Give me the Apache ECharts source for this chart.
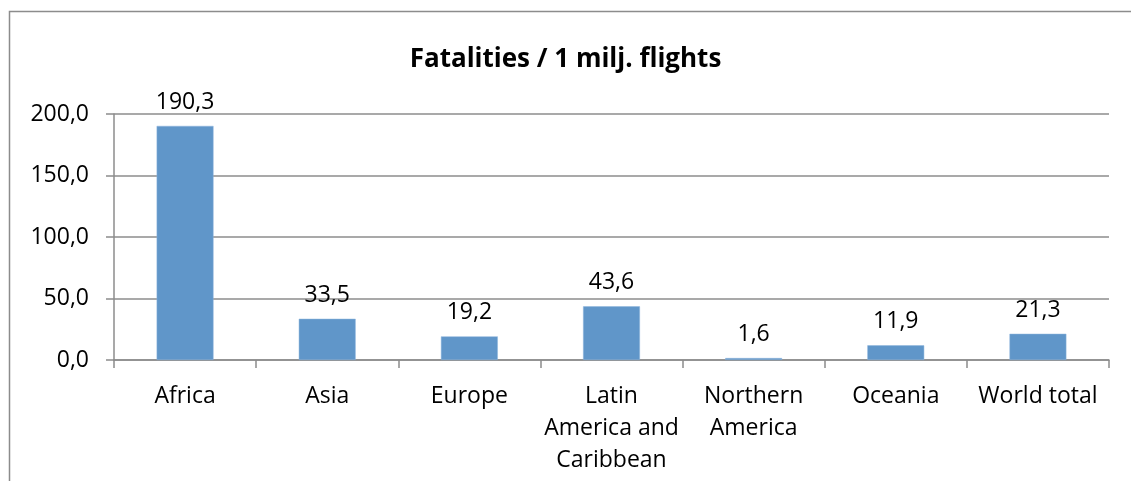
<!DOCTYPE html>
<html>
<head>
<meta charset="utf-8">
<script src="https://cdn.jsdelivr.net/npm/echarts@6/dist/echarts.min.js"></script>
<style>
  html, body { margin: 0; padding: 0; background: #fff; }
  #chart { width: 1131px; height: 481px; }
</style>
</head>
<body>
<div id="chart"></div>
<script>
// data
const regions = ['Africa', 'Asia', 'Europe', 'Latin\nAmerica and\nCaribbean', 'Northern\nAmerica', 'Oceania', 'World total'];
const fatalities = [190.3, 33.5, 19.2, 43.6, 1.6, 11.9, 21.3];
const yTicks = [0, 50, 100, 150, 200];

const fmt = v => v.toFixed(1).replace('.', ',');
const font = '"Open Sans", "Liberation Sans", sans-serif';

let myChart = echarts.init(document.getElementById('chart'));
myChart.setOption({
  animation: false,
  textStyle: { fontFamily: font },
  graphic: [{
    type: 'rect',
    shape: { x: 9.5, y: 11.5, width: 1200, height: 600 },
    style: { fill: 'none', stroke: '#8c8c8c', lineWidth: 1.5 }
  }],
  title: {
    text: 'Fatalities / 1 milj. flights',
    left: 'center',
    top: 42,
    textStyle: { fontFamily: font, fontSize: 26, fontWeight: 'bold', color: '#000' }
  },
  grid: { left: 114, right: 22, top: 114, bottom: 121 },
  xAxis: {
    type: 'category',
    data: regions,
    axisLine: { lineStyle: { color: '#8c8c8c', width: 1.5 } },
    axisTick: { show: true, length: 8, alignWithLabel: false, lineStyle: { color: '#8c8c8c', width: 1.5 } },
    axisLabel: { color: '#000', fontSize: 23, margin: 20, lineHeight: 32, interval: 0 }
  },
  yAxis: {
    type: 'value',
    min: yTicks[0],
    max: yTicks[yTicks.length - 1],
    interval: 50,
    axisLine: { show: true, lineStyle: { color: '#8c8c8c', width: 1.5 } },
    axisTick: { show: true, length: 8, lineStyle: { color: '#8c8c8c', width: 1.5 } },
    splitLine: { lineStyle: { color: '#8c8c8c', width: 1.5 } },
    axisLabel: { color: '#000', fontSize: 23, margin: 25, formatter: v => fmt(v) }
  },
  series: [{
    type: 'bar',
    data: fatalities,
    barWidth: '40%',
    itemStyle: { color: '#6096c9', borderColor: '#8db4dc', borderWidth: 0.5 },
    label: {
      show: true,
      position: 'top',
      distance: 12,
      color: '#000',
      fontSize: 23,
      formatter: p => fmt(p.value)
    }
  }]
});
</script>
</body>
</html>
